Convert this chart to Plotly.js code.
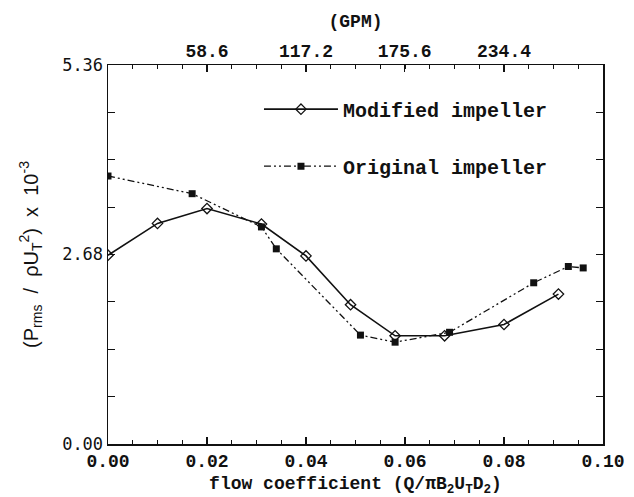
<!DOCTYPE html>
<html>
<head>
<meta charset="utf-8">
<script src="https://cdn.plot.ly/plotly-3.0.1.min.js"></script>
<style>html,body{margin:0;padding:0;background:#fff;}#chart{width:634px;height:497px;}</style>
</head>
<body>
<div id="chart"></div>
<script>
// Data
var modifiedFlow = [0.000, 0.010, 0.020, 0.031, 0.040, 0.049, 0.058, 0.068, 0.080, 0.091];
var modifiedP    = [2.67, 3.12, 3.33, 3.11, 2.66, 1.97, 1.53, 1.53, 1.69, 2.12];
var originalFlow = [0.000, 0.017, 0.031, 0.034, 0.051, 0.058, 0.069, 0.086, 0.093, 0.096];
var originalP    = [3.79, 3.54, 3.07, 2.76, 1.54, 1.44, 1.58, 2.28, 2.51, 2.49];
var seriesNames  = ['Modified impeller', 'Original impeller'];
var yTickVals    = [0.00, 2.68, 5.36];
var gpmTickVals  = [58.6, 117.2, 175.6, 234.4];
var gpmTickText  = ['58.6', '117.2', '175.6', '234.4'];

var ink = '#111';
var monoBold = function (s) { return {family: 'Liberation Mono', size: s, color: ink, weight: 'bold'}; };

var traces = [
  {
    x: modifiedFlow, y: modifiedP, name: seriesNames[0], legendgroup: 'a',
    type: 'scatter', mode: 'lines+markers',
    line: {color: ink, width: 1.6},
    marker: {symbol: 'diamond-open', size: 8, color: ink, line: {width: 1.3, color: ink}}
  },
  {
    x: originalFlow, y: originalP, name: seriesNames[1], legendgroup: 'b',
    type: 'scatter', mode: 'lines+markers',
    line: {color: ink, width: 1.3, dash: '7px,3px,2px,3px,2px,3px'},
    marker: {symbol: 'square', size: 7, color: ink}
  },
  {
    x: [0, 293], y: [null, null], xaxis: 'x2', type: 'scatter', mode: 'markers',
    showlegend: false, hoverinfo: 'skip'
  }
];

var layout = {
  width: 634, height: 497,
  margin: {l: 108, r: 31, t: 65, b: 53},
  paper_bgcolor: '#fff', plot_bgcolor: '#fff',
  showlegend: true,
  legend: {
    x: 0.305, y: 0.935, xanchor: 'left', yanchor: 'top',
    bgcolor: 'rgba(0,0,0,0)', font: monoBold(20),
    traceorder: 'grouped', tracegroupgap: 28, itemwidth: 74
  },
  xaxis: {
    range: [0, 0.1], tickvals: [0, 0.02, 0.04, 0.06, 0.08, 0.1], tickformat: '.2f',
    ticks: 'inside', ticklen: 7, tickwidth: 1.2, tickcolor: ink,
    minor: {dtick: 0.005, tick0: 0, ticks: 'inside', ticklen: 4, tickcolor: ink},
    showline: true, linecolor: ink, linewidth: 1.5, mirror: true,
    showgrid: false, zeroline: false, tickfont: monoBold(18),
    title: {text: 'flow coefficient (Q/\u03c0B<sub>2</sub>U<sub>T</sub>D<sub>2</sub>)', font: monoBold(18), standoff: 6}
  },
  xaxis2: {
    overlaying: 'x', side: 'top', range: [0, 293],
    tickvals: gpmTickVals, ticktext: gpmTickText,
    ticks: 'inside', ticklen: 7, tickwidth: 1.2, tickcolor: ink,
    minor: {dtick: 14.65, tick0: 0, ticks: 'inside', ticklen: 4, tickcolor: ink},
    showline: false, showgrid: false, zeroline: false,
    ticklabelstandoff: 3,
    tickfont: monoBold(18),
    title: {text: '(GPM)', font: monoBold(18), standoff: 10}
  },
  yaxis: {
    range: [0, 5.36], tickvals: yTickVals, tickformat: '.2f',
    ticks: 'inside', ticklen: 7, tickwidth: 1.2, tickcolor: ink,
    minor: {dtick: 0.67, tick0: 0, ticks: 'inside', ticklen: 7, tickcolor: ink},
    showline: true, linecolor: ink, linewidth: 1.5, mirror: 'ticks',
    showgrid: false, zeroline: false, tickfont: {family: 'DejaVu Sans Mono', size: 17, color: ink},
    title: {text: '(P<sub>rms</sub>  /  \u03c1U<sub>T</sub><sup>2</sup>)  x  10<sup>-3</sup>', font: {family: 'Liberation Sans', size: 20, color: ink}, standoff: 18}
  }
};

Plotly.newPlot('chart', traces, layout, {displayModeBar: false, staticPlot: true});
</script>
</body>
</html>
